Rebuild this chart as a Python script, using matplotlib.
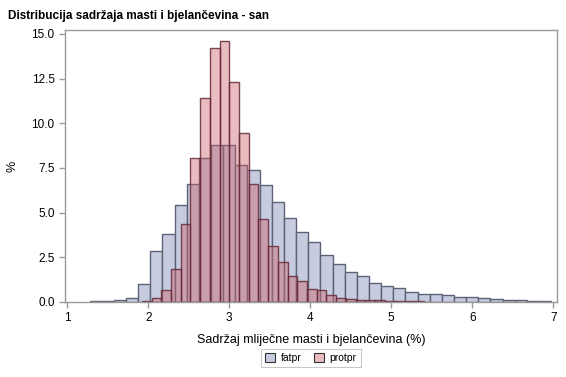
import numpy as np
import matplotlib
matplotlib.use('Agg')
import matplotlib.pyplot as plt
from matplotlib.patches import Patch

plt.rcParams['font.family'] = ['Liberation Sans', 'DejaVu Sans']

# fatpr histogram: bin width 0.15, first bin starts at 1.275
fat_start = 1.275
fat_width = 0.15
fat_pct = [0.06, 0.06, 0.11, 0.22, 1.01, 2.87, 3.80, 5.43, 6.60, 8.06,
           8.79, 8.79, 7.67, 7.39, 6.55, 5.60, 4.70, 3.92, 3.36, 2.63,
           2.13, 1.68, 1.45, 1.06, 0.90, 0.78, 0.56, 0.45, 0.45, 0.39,
           0.28, 0.28, 0.22, 0.17, 0.11, 0.11, 0.06, 0.06]

# protpr histogram: bin width 0.12, first bin starts at 1.92
prot_start = 1.92
prot_width = 0.12
prot_pct = [0.07, 0.22, 0.67, 1.85, 4.36, 8.06, 11.42, 14.21, 14.58, 12.31,
            9.46, 6.60, 4.64, 3.11, 2.24, 1.45, 1.17, 0.73, 0.67, 0.39,
            0.22, 0.17, 0.11, 0.10, 0.09, 0.06, 0.05, 0.04, 0.03]

xticks = [1, 2, 3, 4, 5, 6, 7]
yticks = [0, 2.5, 5.0, 7.5, 10.0, 12.5, 15.0]

title = 'Distribucija sadržaja masti i bjelančevina - san'
xlabel = 'Sadržaj mliječne masti i bjelančevina (%)'

fat_fill = '#c6cbe0'
fat_edge = '#5d6275'
prot_fill = (203/255., 96/255., 103/255., 0.42)
prot_edge = (0.40, 0.16, 0.22, 0.85)
frame = '#9a9a9a'

fig = plt.figure(figsize=(5.66, 3.77), dpi=100)
ax = fig.add_axes([65/566., 1-302/377., 492/566., 272/377.])

fat_left = fat_start + fat_width*np.arange(len(fat_pct))
prot_left = prot_start + prot_width*np.arange(len(prot_pct))

ax.bar(fat_left, fat_pct, width=fat_width, align='edge', color=fat_fill,
       edgecolor=fat_edge, linewidth=1.0)
ax.bar(prot_left, prot_pct, width=prot_width, align='edge', color=prot_fill,
       edgecolor=prot_edge, linewidth=1.0)

ax.set_xlim(0.972, 7.046)
ax.set_ylim(0, 15.22)
ax.set_xticks(xticks)
ax.set_xticklabels([str(t) for t in xticks])
ax.set_yticks(yticks)
ax.set_yticklabels(['%.1f' % t for t in yticks])
ax.tick_params(direction='out', length=4, width=1, colors=frame,
               labelcolor='black', labelsize=8.5)
for s in ax.spines.values():
    s.set_color(frame)
    s.set_linewidth(1)

ax.set_xlabel(xlabel, fontsize=9, labelpad=7)
ax.set_ylabel('%', fontsize=9)
ax.yaxis.set_label_coords(-0.095, 0.5)

fig.text(8/566., 1-16/377., title, fontsize=8.5, fontweight='bold',
         va='center', ha='left')

handles = [Patch(facecolor=fat_fill, edgecolor='#333333', linewidth=0.8, label='fatpr'),
           Patch(facecolor='#e9bcbf', edgecolor='#333333', linewidth=0.8, label='protpr')]
leg = fig.legend(handles=handles, loc='center', bbox_to_anchor=(311/566., 1-358/377.),
                 ncol=2, fontsize=7.5, frameon=True, fancybox=False,
                 handlelength=0.9, handleheight=0.9, handletextpad=0.6,
                 columnspacing=1.2, borderpad=0.4, borderaxespad=0)
leg.get_frame().set_edgecolor('#bbbbbb')
leg.get_frame().set_linewidth(0.8)

fig.savefig('out.png', dpi=100)
